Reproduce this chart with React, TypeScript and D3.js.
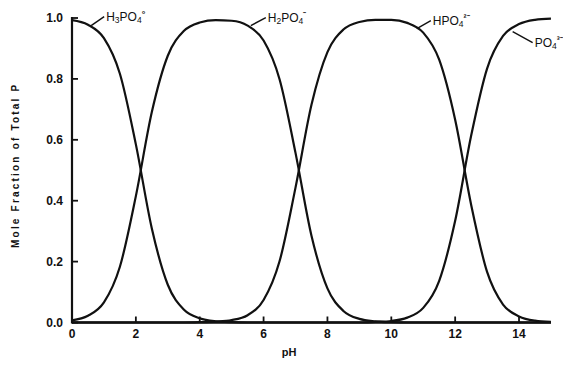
import React, { useRef, useEffect } from 'react';
import * as d3 from 'd3';

// pH sample points (every 0.5 units)
const phValues = [
  0, 0.5, 1, 1.5, 2, 2.5, 3, 3.5, 4, 4.5, 5, 5.5, 6, 6.5, 7, 7.5,
  8, 8.5, 9, 9.5, 10, 10.5, 11, 11.5, 12, 12.5, 13, 13.5, 14, 14.5, 15,
];

const h3po4 = [
  0.993, 0.978, 0.934, 0.817, 0.585, 0.309, 0.124, 0.043, 0.014, 0.004, 0.001, 0, 0, 0, 0, 0,
  0, 0, 0, 0, 0, 0, 0, 0, 0, 0, 0, 0, 0, 0, 0,
];
const h2po4 = [
  0.007, 0.022, 0.066, 0.183, 0.415, 0.691, 0.876, 0.957, 0.985, 0.993, 0.991, 0.975, 0.926, 0.799, 0.557, 0.285,
  0.112, 0.038, 0.012, 0.004, 0.001, 0, 0, 0, 0, 0, 0, 0, 0, 0, 0,
];
const hpo4 = [
  0, 0, 0, 0, 0, 0, 0, 0, 0.001, 0.003, 0.008, 0.024, 0.074, 0.201, 0.443, 0.715,
  0.888, 0.962, 0.987, 0.994, 0.994, 0.984, 0.952, 0.863, 0.666, 0.387, 0.166, 0.059, 0.02, 0.006, 0.002,
];
const po4 = [
  0, 0, 0, 0, 0, 0, 0, 0, 0, 0, 0, 0, 0, 0, 0, 0,
  0, 0, 0, 0.002, 0.005, 0.016, 0.048, 0.137, 0.334, 0.613, 0.834, 0.941, 0.98, 0.994, 0.998,
];

const xTicks = [0, 2, 4, 6, 8, 10, 12, 14];
const yTicks = [0, 0.2, 0.4, 0.6, 0.8, 1.0];

// species labels: formula parts, charge, and where the leader touches the curve
const speciesLabels = [
  { parts: ['H', '3', 'PO', '4'], charge: '°', ph: 0.6, frac: 0.975, dx: 14, dy: -9 },
  { parts: ['H', '2', 'PO', '4'], charge: '⁻', ph: 5.6, frac: 0.975, dx: 16, dy: -8 },
  { parts: ['HPO', '4'], charge: '²⁻', ph: 10.8, frac: 0.965, dx: 15, dy: -8 },
  { parts: ['PO', '4'], charge: '³⁻', ph: 13.8, frac: 0.955, dx: 21, dy: 11 },
];

const App = () => {
  const svgRef = useRef<SVGSVGElement>(null);
  const width = 563;
  const height = 365;

  useEffect(() => {
    const svg = d3.select(svgRef.current);
    svg.selectAll('*').remove();

    const margin = { top: 18, right: 13, bottom: 43, left: 72 };

    const xScale = d3.scaleLinear().domain([0, 15]).range([margin.left, margin.left + 15 * 31.93]);
    const yScale = d3.scaleLinear().domain([0, 1]).range([height - margin.bottom + 0.5, margin.top]);

    svg.append('rect').attr('width', width).attr('height', height).attr('fill', '#fff');

    const font = 'Liberation Sans, Arial, sans-serif';

    // curves
    const line = d3
      .line<[number, number]>()
      .x(d => xScale(d[0]))
      .y(d => yScale(d[1]))
      .curve(d3.curveMonotoneX);

    [h3po4, h2po4, hpo4, po4].forEach(series => {
      let pts: [number, number][] = phValues.map((p, i) => [p, series[i]]);
      svg
        .append('path')
        .attr('d', line(pts))
        .attr('fill', 'none')
        .attr('stroke', '#111')
        .attr('stroke-width', 2.2);
    });

    // axes
    const x0 = xScale(0);
    const y0 = yScale(0);
    svg
      .append('line')
      .attr('x1', x0).attr('x2', xScale(15))
      .attr('y1', y0).attr('y2', y0)
      .attr('stroke', '#111').attr('stroke-width', 2.2);
    svg
      .append('line')
      .attr('x1', x0).attr('x2', x0)
      .attr('y1', y0 + 1).attr('y2', yScale(1) - 1)
      .attr('stroke', '#111').attr('stroke-width', 2.2);

    // x ticks (pointing inward)
    xTicks.forEach(t => {
      svg
        .append('line')
        .attr('x1', xScale(t)).attr('x2', xScale(t))
        .attr('y1', y0).attr('y2', y0 - 6)
        .attr('stroke', '#111').attr('stroke-width', 1.8);
      svg
        .append('text')
        .attr('x', xScale(t))
        .attr('y', y0 + 15)
        .attr('text-anchor', 'middle')
        .attr('font-family', font)
        .attr('font-weight', 'bold')
        .attr('font-size', 12)
        .attr('fill', '#111')
        .text(t);
    });

    // y ticks
    yTicks.forEach(t => {
      svg
        .append('line')
        .attr('x1', x0).attr('x2', x0 + 6)
        .attr('y1', yScale(t)).attr('y2', yScale(t))
        .attr('stroke', '#111').attr('stroke-width', 1.8);
      svg
        .append('text')
        .attr('x', x0 - 9)
        .attr('y', yScale(t) + 4)
        .attr('text-anchor', 'end')
        .attr('font-family', font)
        .attr('font-weight', 'bold')
        .attr('font-size', 12)
        .attr('fill', '#111')
        .text(t.toFixed(1));
    });

    // axis titles
    svg
      .append('text')
      .attr('x', xScale(6.8))
      .attr('y', y0 + 33)
      .attr('text-anchor', 'middle')
      .attr('font-family', font)
      .attr('font-weight', 'bold')
      .attr('font-size', 11)
      .attr('fill', '#111')
      .text('pH');

    svg
      .append('text')
      .attr('transform', `translate(19, ${yScale(0.5) - 5}) rotate(-90)`)
      .attr('text-anchor', 'middle')
      .attr('font-family', font)
      .attr('font-weight', 'bold')
      .attr('font-size', 10)
      .attr('letter-spacing', 2.2)
      .attr('fill', '#111')
      .text('Mole Fraction of Total P');

    // species labels with leader lines
    speciesLabels.forEach(s => {
      const px = xScale(s.ph);
      const py = yScale(s.frac);
      const tx = px + s.dx;
      const ty = py + s.dy;
      svg
        .append('line')
        .attr('x1', px).attr('y1', py)
        .attr('x2', tx - 1).attr('y2', ty)
        .attr('stroke', '#111').attr('stroke-width', 1.4);
      const text = svg
        .append('text')
        .attr('x', tx + 1)
        .attr('y', ty + 4)
        .attr('font-family', font)
        .attr('font-size', 12)
        .attr('fill', '#111');
      s.parts.forEach((p, i) => {
        const isSub = /^\d$/.test(p);
        text
          .append('tspan')
          .attr('font-size', isSub ? 8.5 : 12)
          .attr('dy', isSub ? 2 : i > 0 ? -2 : 0)
          .text(p);
      });
      text
        .append('tspan')
        .attr('font-size', 9)
        .attr('dy', -6)
        .attr('font-weight', 'bold')
        .text(s.charge);
    });
  }, []);

  return (
    <svg
      ref={svgRef}
      width={width}
      height={height}
      style={{ position: 'absolute', left: 0, top: 0 }}
    ></svg>
  );
};

export default App;
